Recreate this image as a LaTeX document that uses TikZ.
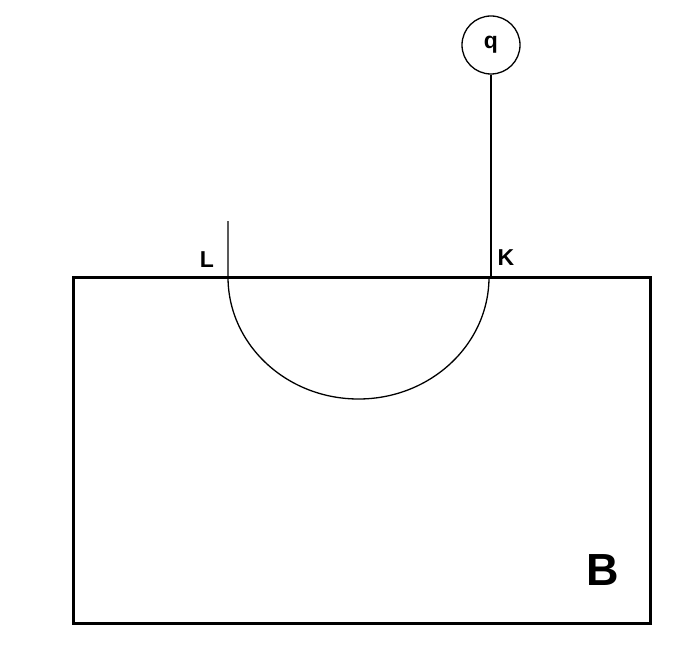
\documentclass[tikz,border=0pt]{standalone}
\usepackage{fontspec}
\setmainfont{Liberation Sans}
\begin{document}
\begin{tikzpicture}[x=1pt,y=-1pt,
    thinline/.style={line width=1.3pt},
    lbl/.style={font=\fontsize{23}{23}\selectfont\bfseries}]
    \useasboundingbox (0,0) rectangle (700,663);

    \draw [line width=3pt] (73,277) rectangle (650,623);
    \node [lbl,font=\fontsize{45}{45}\selectfont\bfseries] (B) at (603,570) {B};

    \coordinate (L) at (228,277);
    \coordinate (K) at (489,277);
    \coordinate (Ltop) at (228,221);
    \node [lbl] (Llbl) at (207,260) {L};
    \node [lbl] (Klbl) at (506,258) {K};

    \node [draw,circle,thinline,minimum size=58pt,inner sep=0pt,lbl] (q) at (491,45) {q};

    \draw [thinline] (q.south) |- (K);
    \draw [thinline] (Ltop) -- (L)
        arc[start angle=180,end angle=360,x radius=130.5,y radius=-122];
\end{tikzpicture}
\end{document}
